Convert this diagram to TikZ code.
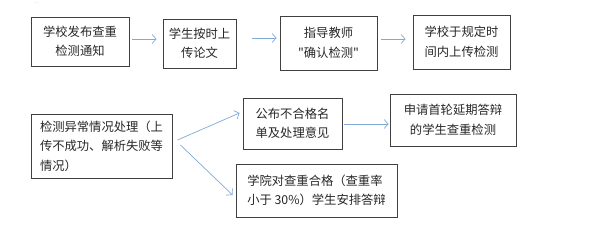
\documentclass[tikz,border=0pt]{standalone}
\usepackage{fontspec}
\newfontfamily\cjk{Noto Sans CJK SC}
\usetikzlibrary{arrows.meta,calc}
\definecolor{edge}{HTML}{404040}
\definecolor{arr}{HTML}{7FAAD6}
\tikzset{
  box/.style={draw=edge, line width=0.9pt, inner sep=0pt, font=\cjk\fontsize{12.3}{19.5}\selectfont, text=black!85},
  flow/.style={draw=arr, line width=0.7pt, -{Straight Barb[length=4pt,width=9pt]}}
}
\begin{document}
\begin{tikzpicture}[x=1pt,y=-1pt]
\useasboundingbox (0,0) rectangle (615,232);
\node[font=\fontsize{5}{5}\selectfont, text=gray] (dots) at (37,3) {..};
\node[box, minimum width=98, minimum height=49, align=center] (b1) at (80,41.5) {学校发布查重\\检测通知};
\node[box, minimum width=73, minimum height=49, align=center] (b2) at (199.5,43.5) {学生按时上\\传论文};
\node[box, minimum width=97, minimum height=54, align=center] (b3) at (328.5,43) {指导教师\\"确认检测"};
\node[box, minimum width=97, minimum height=54, align=left] (b4) at (461.5,42) {学校于规定时\\间内上传检测};
\node[box, minimum width=141, minimum height=64, align=left] (b5) at (101.5,146) {检测异常情况处理（上\\传不成功、解析失败等\\情况）};
\node[box, minimum width=99, minimum height=51, align=left] (b6) at (292.5,123.5) {公布不合格名\\单及处理意见};
\node[box, minimum width=126, minimum height=52, align=center] (b8) at (453,120) {申请首轮延期答辩\\的学生查重检测};
\node[box, minimum width=161, minimum height=53, align=left] (b7) at (316.5,190.5) {学院对查重合格（查重率\\小于 30\%）学生安排答辩};
\draw[flow] ($(b1.east)+(3,-2.5)$) -- ($(b2.west)+(-6,-4.5)$);
\draw[flow] ($(b2.east)+(16,-5.5)$) -- ($(b3.west)+(-3,-5)$);
\draw[flow] ($(b3.east)+(4,-4)$) -- ($(b4.west)+(-7,-3)$);
\draw[flow] ($(b5.east)+(5,-6)$) -- ($(b6.west)+(-3,-10.5)$);
\draw[flow] ($(b5.east)+(8,-1)$) -- ($(b7.west)+(-3,4.5)$);
\draw[flow] ($(b6.east)+(2,0.5)$) -- ($(b8.west)+(-1,4)$);
\end{tikzpicture}
\end{document}
